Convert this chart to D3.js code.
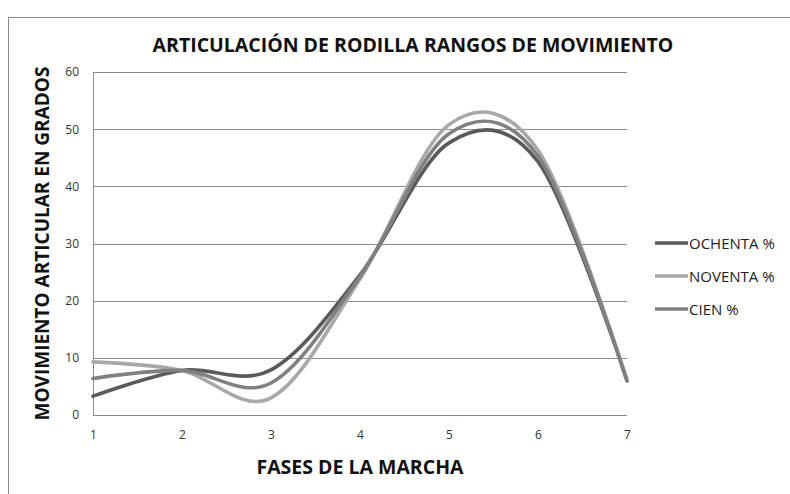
<!DOCTYPE html>
<html>
<head>
<meta charset="utf-8">
<script src="https://cdnjs.cloudflare.com/ajax/libs/d3/7.8.5/d3.min.js"></script>
<style>
  body { margin: 0; background: #fff; }
  svg { display: block; }
</style>
</head>
<body>
<svg id="chart"></svg>
<script>
// fases de la marcha (categorias del eje x)
var fases = [1, 2, 3, 4, 5, 6, 7];
var yTicks = [0, 10, 20, 30, 40, 50, 60];

var ochenta = [3.3, 7.8, 7.9, 24.5, 47.6, 44.3, 6];
var noventa = [9.3, 7.8, 3.0, 23.8, 50.8, 46.3, 6];
var cien    = [6.4, 7.8, 5.6, 24.2, 49.2, 45.3, 6];

var seriesNames  = ["OCHENTA %", "NOVENTA %", "CIEN %"];
var seriesColors = ["#5a5a5a", "#a8a8a8", "#808080"];

var W = 790, H = 494,
    margin = {top: 72, right: 163, bottom: 79, left: 93},
    width = W - margin.left - margin.right,
    height = H - margin.top - margin.bottom;

var svg = d3.select("#chart")
    .attr("width", W)
    .attr("height", H);

// marco del grafico
svg.append("path")
    .attr("d", "M8.5," + H + "V17.5H" + W)
    .attr("fill", "none")
    .attr("stroke", "#8a8a8a")
    .attr("stroke-width", 1);

var x = d3.scaleLinear().domain([1, 7]).range([0, width]);
var y = d3.scaleLinear().domain([0, 60]).range([height, 0]);

var g = svg.append("g")
    .attr("transform", "translate(" + margin.left + "," + margin.top + ")");

// lineas de division
g.append("g")
    .selectAll("line")
    .data(yTicks)
    .enter()
    .append("line")
    .attr("x1", 0)
    .attr("x2", width)
    .attr("y1", function(d){ return Math.round(y(d)) + 0.5; })
    .attr("y2", function(d){ return Math.round(y(d)) + 0.5; })
    .attr("stroke", "#8c8c8c")
    .attr("stroke-width", 1);

// eje y (solo la linea)
g.append("line")
    .attr("x1", 0.5).attr("x2", 0.5)
    .attr("y1", 0).attr("y2", height)
    .attr("stroke", "#8c8c8c");

var font = "'Open Sans', sans-serif";

var yAxis = g.append("g")
    .call(d3.axisLeft(y).tickValues(yTicks).tickSize(0).tickPadding(14));
yAxis.select(".domain").remove();
yAxis.selectAll("text")
    .attr("font-family", font)
    .attr("font-size", 12)
    .attr("fill", "#333");

var xAxis = g.append("g")
    .attr("transform", "translate(0," + (height + 15) + ")")
    .call(d3.axisBottom(x).tickValues(fases).tickFormat(d3.format("d")).tickSize(0).tickPadding(0));
xAxis.select(".domain").remove();
xAxis.selectAll("text")
    .attr("font-family", font)
    .attr("font-size", 12)
    .attr("fill", "#333");

var line = d3.line()
    .x(function(d, i){ return x(fases[i]); })
    .y(function(d){ return y(d); })
    .curve(d3.curveCardinal.tension(0));

var allSeries = [ochenta, noventa, cien];

g.append("g")
    .selectAll("path")
    .data(allSeries)
    .enter()
    .append("path")
    .attr("d", line)
    .attr("fill", "none")
    .attr("stroke", function(d, i){ return seriesColors[i]; })
    .attr("stroke-width", 3.6)
    .attr("stroke-linecap", "round");

// titulos
svg.append("text")
    .attr("x", 413)
    .attr("y", 52)
    .attr("text-anchor", "middle")
    .attr("font-family", font)
    .attr("font-weight", "bold")
    .attr("font-size", 19.5)
    .attr("fill", "#111")
    .text("ARTICULACIÓN DE RODILLA RANGOS DE MOVIMIENTO");

svg.append("text")
    .attr("x", margin.left + width / 2)
    .attr("y", 474)
    .attr("text-anchor", "middle")
    .attr("font-family", font)
    .attr("font-weight", "bold")
    .attr("font-size", 19.5)
    .attr("fill", "#111")
    .text("FASES DE LA MARCHA");

svg.append("text")
    .attr("transform", "translate(49," + (margin.top + height / 2) + ") rotate(-90)")
    .attr("text-anchor", "middle")
    .attr("font-family", font)
    .attr("font-weight", "bold")
    .attr("font-size", 19)
    .attr("fill", "#111")
    .text("MOVIMIENTO ARTICULAR EN GRADOS");

// leyenda
var legend = svg.append("g")
    .selectAll("g")
    .data(seriesNames)
    .enter()
    .append("g")
    .attr("transform", function(d, i){ return "translate(655," + (243 + i * 33) + ")"; });

legend.append("line")
    .attr("x1", 0).attr("x2", 33)
    .attr("stroke", function(d, i){ return seriesColors[i]; })
    .attr("stroke-width", 3.6);

legend.append("text")
    .attr("x", 34)
    .attr("y", 5.5)
    .attr("font-family", font)
    .attr("font-size", 15)
    .attr("fill", "#222")
    .text(function(d){ return d; });
</script>
</body>
</html>
